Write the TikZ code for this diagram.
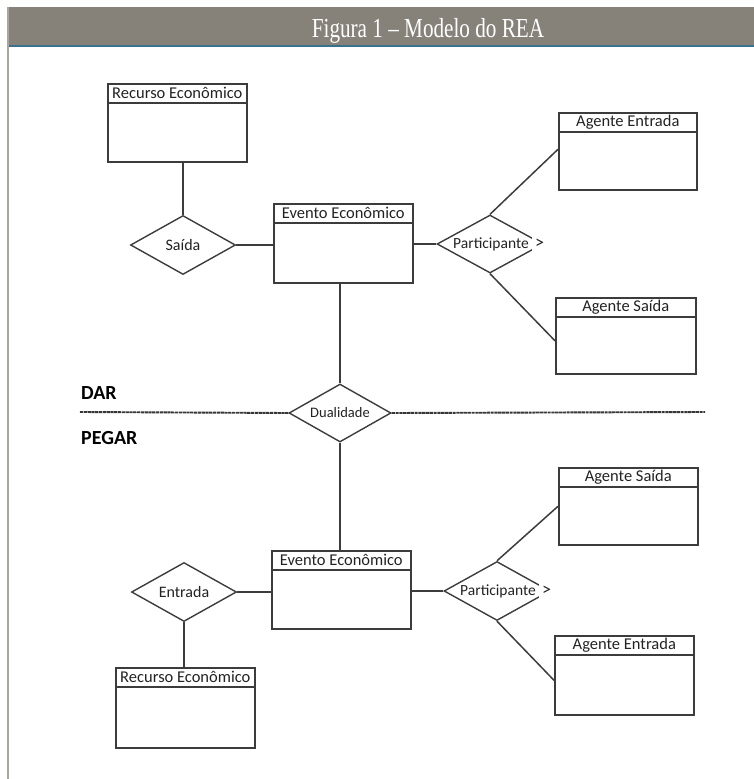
\documentclass[tikz,border=0pt]{standalone}
\usepackage{fontspec}
\setmainfont{Carlito}
\newfontfamily\titlefont{Liberation Serif}
\usetikzlibrary{shapes.geometric,calc}
\definecolor{barcol}{HTML}{86827A}
\definecolor{barline}{HTML}{3A7190}
\definecolor{edgecol}{HTML}{3C3C3C}
\definecolor{txtcol}{HTML}{222222}
\definecolor{framecol}{HTML}{A8A69E}
\tikzset{
  entbox/.style={draw=edgecol, line width=1.6pt, rectangle, anchor=north west, inner sep=0pt},
  enttext/.style={font=\fontsize{16.5}{18}\selectfont, text=txtcol, inner sep=0pt, anchor=center},
  rel/.style={draw=edgecol, line width=1.4pt, diamond, aspect=2, inner sep=0pt,
     minimum width=105pt, minimum height=59pt, font=\fontsize{16}{18}\selectfont, text=txtcol},
  conn/.style={draw=edgecol, line width=1.5pt},
  sep/.style={draw=edgecol!90!black, line width=1.9pt, dash pattern=on 3.2pt off 0.6pt},
  sidelabel/.style={font=\bfseries\fontsize{20}{22}\selectfont, text=black, anchor=base west, inner sep=0pt},
  parttext/.style={font=\fontsize{15.5}{17}\selectfont, text=txtcol, inner sep=0pt},
  tipmark/.style={font=\fontsize{18}{19}\selectfont, text=txtcol, fill=white, inner xsep=3.5pt, inner ysep=2pt}
}
\newcommand{\entity}[6]{% name, x, y, w, h, label
  \node[entbox, minimum width=#4pt, minimum height=#5pt] (#1) at (#2,#3) {};
  \draw[edgecol, line width=1.4pt] ($(#1.north west)+(0,20)$) -- ($(#1.north east)+(0,20)$);
  \node[enttext] (#1t) at ($(#1.north)+(0,10)$) {#6};
}
\begin{document}
\begin{tikzpicture}[x=1pt,y=-1pt]
\useasboundingbox (0,0) rectangle (754,779);
% header
\fill[barcol] (8,7) rectangle (754,46);
\draw[barline, line width=1.5pt] (8,46) -- (754,46);
\draw[framecol, line width=1.5pt] (8,7) -- (8,779);
\node[text=white, font=\titlefont\fontsize{27.5}{30}\selectfont, anchor=base, inner sep=0pt] (title) at (428,37) {\scalebox{0.77}[1]{Figura 1 – Modelo do REA}};

% upper group
\entity{r1}{107}{83}{139}{78}{Recurso Econômico}
\node[rel] (sa) at (183,245) {Saída};
\entity{e1}{273}{203}{139}{79}{Evento Econômico}
\node[rel, minimum width=106pt, minimum height=58pt] (p1) at (490,244) {};
\node[parttext] (p1t) at (491,244) {Participante};
\node[tipmark] (p1g) at ($(p1.east)+(-4,0)$) {>};
\entity{ae1}{558}{112}{138}{77}{Agente Entrada}
\entity{as1}{555}{297}{140}{76}{Agente Saída}

\draw[conn] (sa.north |- r1.south) -- (sa.north);
\draw[conn] (sa.east) -- (sa.east -| e1.west);
\draw[conn] (p1.west -| e1.east) -- (p1.west);
\draw[conn] (p1.north) -- ([yshift=2pt]ae1.west);
\draw[conn] (p1.south) -- ([yshift=-5pt]as1.west);

% separator
\node[rel, minimum width=102pt, minimum height=58pt, font=\fontsize{14.5}{16}\selectfont] (du) at (340,413) {Dualidade};
\coordinate (dl) at (80,412);
\coordinate (dr) at (705,412);
\draw[sep] (dl) -- (du.west);
\draw[sep] (du.east) -- (dr);
\node[sidelabel] (dar) at (81,399) {DAR};
\node[sidelabel] (pegar) at (81,444) {PEGAR};
\draw[conn] (du.north |- e1.south) -- (du.north);

% lower group
\entity{e2}{271}{550}{139}{78}{Evento Econômico}
\node[rel] (en) at (184,592) {Entrada};
\entity{r2}{115}{667}{139}{80}{Recurso Econômico}
\node[rel, minimum width=106pt, minimum height=59pt] (p2) at (497,591) {};
\node[parttext] (p2t) at (498,591) {Participante};
\node[tipmark] (p2g) at ($(p2.east)+(-4,0)$) {>};
\entity{as2}{558}{467}{139}{77}{Agente Saída}
\entity{ae2}{554}{635}{139}{79}{Agente Entrada}

\draw[conn] (du.south) -- (du.south |- e2.north);
\draw[conn] (en.east) -- (en.east -| e2.west);
\draw[conn] (en.south) -- (en.south |- r2.north);
\draw[conn] (p2.west -| e2.east) -- (p2.west);
\draw[conn] (p2.north) -- (as2.west);
\draw[conn] (p2.south) -- ([yshift=-5pt]ae2.west);
\end{tikzpicture}
\end{document}
